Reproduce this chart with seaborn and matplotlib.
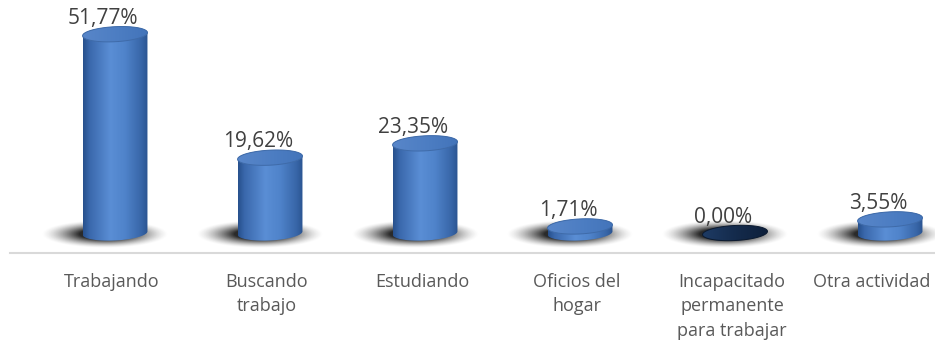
import numpy as np
import pandas as pd
import seaborn as sns
import matplotlib
matplotlib.use("Agg")
import matplotlib.pyplot as plt
from matplotlib.patches import Polygon
from matplotlib.colors import LinearSegmentedColormap
from matplotlib.transforms import blended_transform_factory, offset_copy

categories = ["Trabajando", "Buscando\ntrabajo", "Estudiando", "Oficios del\nhogar",
              "Incapacitado\npermanente\npara trabajar", "Otra actividad"]
values = [51.77, 19.62, 23.35, 1.71, 0.00, 3.55]

df = pd.DataFrame({"cat": categories, "val": values})

sns.set_theme(style="white")
plt.rcParams["font.family"] = ["Open Sans", "DejaVu Sans"]

W, H = 935, 356
fig = plt.figure(figsize=(W / 100, H / 100), dpi=100)
fig.patch.set_facecolor("white")

# axes: bottom spine is the gray base line
ax_left, ax_bottom = 10, 253
ax = fig.add_axes([ax_left / W, (H - ax_bottom) / H, 1 - ax_left / W, ax_bottom / H])

px_per_unit = 3.84          # vertical pixels per percentage point
slot = 155                  # horizontal pixels per category
first_center = 115
zero_px = 233               # pixel row of value 0 (base ellipse center)
ylo = -(ax_bottom - zero_px) / px_per_unit
yhi = zero_px / px_per_unit
xlo = (ax_left - first_center) / slot
xhi = (W - first_center) / slot

bar_w = 65 / slot
sns.barplot(data=df, x="cat", y="val", width=bar_w, color="#4f81bd", ax=ax,
            errorbar=None, zorder=2)
ax.set_xlim(xlo, xhi)
ax.set_ylim(ylo, yhi)

semi_b = 7.5                # ellipse half-height in pixels
tilt = np.deg2rad(3.0)      # slight perspective tilt of the ellipses


def ellipse_pts(xc, yc, a_px, b_px, t):
    """Points of a tilted ellipse, built in pixels and returned in data units."""
    ex = a_px * np.cos(t)
    ey = b_px * np.sin(t)
    rx = ex * np.cos(tilt) - ey * np.sin(tilt)
    ry = ex * np.sin(tilt) + ey * np.cos(tilt)
    return np.column_stack([xc + rx / slot, yc + ry / px_per_unit])


body_cmap = LinearSegmentedColormap.from_list(
    "cyl", [(0.0, "#27508c"), (0.1, "#3a68ac"), (0.42, "#5a8ed5"),
            (0.65, "#4f83ca"), (0.9, "#3866a8"), (1.0, "#2b5491")])
top_cmap = LinearSegmentedColormap.from_list(
    "top", [(0.0, "#5886c9"), (0.5, "#4d7ec3"), (1.0, "#4374ba")])
zero_cmap = LinearSegmentedColormap.from_list(
    "zero", [(0.0, "#1e3b64"), (0.5, "#142b4c"), (1.0, "#0e203b")])

grad = np.linspace(0, 1, 256)[None, :]
yy, xx = np.mgrid[-1:1:200j, -1:1:200j]
rr = np.sqrt(xx ** 2 + yy ** 2)
shadow_alpha = np.clip((1.0 - rr) / 0.6, 0, 1) ** 1.5 * 0.9
shadow_rgba = np.zeros((200, 200, 4))
shadow_rgba[..., :3] = 0.07
shadow_rgba[..., 3] = shadow_alpha

for patch, v in zip(ax.patches, values):
    x0 = patch.get_x()
    w = patch.get_width()
    x1 = x0 + w
    xc = x0 + w / 2
    h = patch.get_height()
    patch.set_visible(False)
    a_px = w * slot / 2

    # soft shadow on the floor, cast towards the left
    sw = 128 / slot
    sh = 28 / px_per_unit
    sx = xc - 10 / slot
    sy = -1.0 / px_per_unit
    ax.imshow(shadow_rgba, extent=(sx - sw / 2, sx + sw / 2, sy - sh / 2, sy + sh / 2),
              aspect="auto", zorder=1, interpolation="bilinear")

    if h > 0:
        # cylinder body: lower half of the base ellipse, sides, upper half of the top
        lower = ellipse_pts(xc, 0, a_px, semi_b, np.linspace(np.pi, 2 * np.pi, 60))
        upper = ellipse_pts(xc, h, a_px, semi_b, np.linspace(0, np.pi, 60))
        body = Polygon(np.vstack([lower, upper]), closed=True,
                       facecolor="none", edgecolor="none")
        ax.add_patch(body)
        im = ax.imshow(grad, cmap=body_cmap, aspect="auto", zorder=3,
                       extent=(x0, x1, -3 * semi_b / px_per_unit, h + 3 * semi_b / px_per_unit),
                       interpolation="bilinear")
        im.set_clip_path(body)

        top = Polygon(ellipse_pts(xc, h, a_px, semi_b, np.linspace(0, 2 * np.pi, 120)),
                      closed=True, facecolor="none", edgecolor="#3f6ba9",
                      linewidth=0.7, zorder=5)
        ax.add_patch(top)
        imt = ax.imshow(grad, cmap=top_cmap, aspect="auto", zorder=4,
                        extent=(x0, x1, h - 2 * semi_b / px_per_unit, h + 2 * semi_b / px_per_unit),
                        interpolation="bilinear")
        imt.set_clip_path(top)
    else:
        top = Polygon(ellipse_pts(xc, h, a_px, semi_b, np.linspace(0, 2 * np.pi, 120)),
                      closed=True, facecolor="none", edgecolor="#0b1a30",
                      linewidth=0.7, zorder=5)
        ax.add_patch(top)
        imt = ax.imshow(grad, cmap=zero_cmap, aspect="auto", zorder=4,
                        extent=(x0, x1, h - 2 * semi_b / px_per_unit, h + 2 * semi_b / px_per_unit),
                        interpolation="bilinear")
        imt.set_clip_path(top)

    label = f"{v:.2f}".replace(".", ",") + "%"
    ax.text(xc - 12 / slot, h + 16 / px_per_unit, label, ha="center", va="center",
            fontsize=15, color="#404040", zorder=6)

ax.set_xlim(xlo, xhi)
ax.set_ylim(ylo, yhi)

# category labels below the base line, set a little left of each bar
trans = blended_transform_factory(ax.transData, ax.transAxes)
for i, cat in enumerate(categories):
    x = i - 3 / slot
    ha = "center"
    if i == len(categories) - 1:
        x = xhi - 5 / slot
        ha = "right"
    ax.text(x, 0, cat, transform=offset_copy(trans, fig=fig, y=-20, units="dots"),
            ha=ha, va="top", multialignment="center", fontsize=13,
            color="#595959", linespacing=1.45)

ax.set_xticks([])
ax.set_yticks([])
ax.set_xlabel("")
ax.set_ylabel("")
for side in ["top", "left", "right"]:
    ax.spines[side].set_visible(False)
ax.spines["bottom"].set_color("#d9d9d9")
ax.spines["bottom"].set_linewidth(1.5)
ax.set_facecolor("none")

fig.savefig("out.png", dpi=100, facecolor="white")
